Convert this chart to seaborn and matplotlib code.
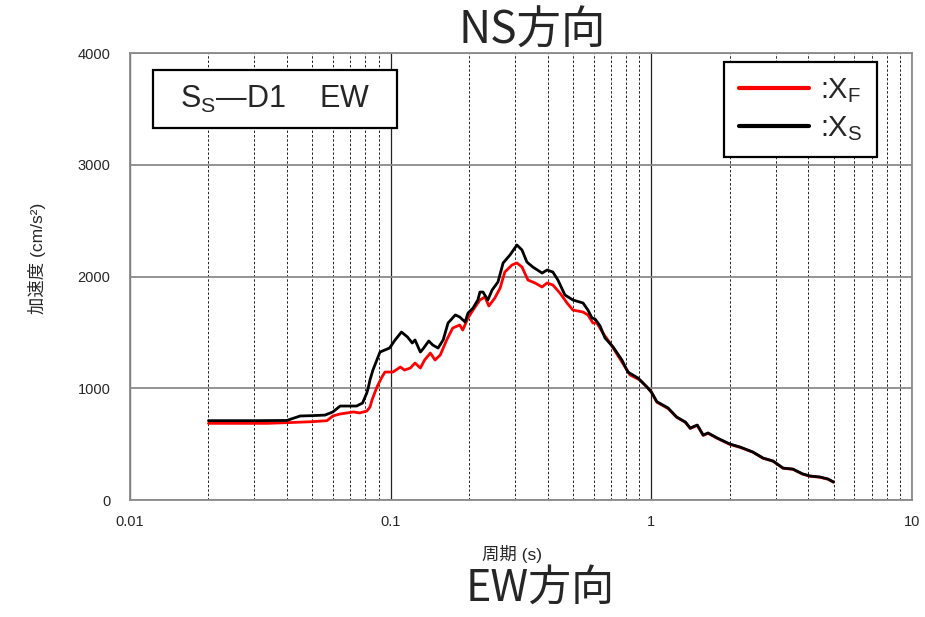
import numpy as np
import pandas as pd
import matplotlib
matplotlib.use("Agg")
import matplotlib.pyplot as plt
from matplotlib.patches import Rectangle
from matplotlib.lines import Line2D
from matplotlib.ticker import FixedLocator, NullFormatter, LogLocator
import seaborn as sns

# ---- data ----
period_xs = [0.020, 0.030, 0.040, 0.045, 0.050, 0.056, 0.060, 0.064, 0.068, 0.074,
             0.078, 0.081, 0.082, 0.0833, 0.0855, 0.091, 0.099, 0.104, 0.110, 0.116,
             0.121, 0.124, 0.130, 0.133, 0.140, 0.145, 0.152, 0.159, 0.166, 0.177,
             0.184, 0.193, 0.198, 0.207, 0.216, 0.220, 0.226, 0.236, 0.245, 0.258,
             0.270, 0.287, 0.305, 0.319, 0.333, 0.351, 0.381, 0.398, 0.419, 0.438,
             0.466, 0.500, 0.547, 0.571, 0.592, 0.608, 0.635, 0.664, 0.713, 0.771,
             0.813, 0.888, 0.962, 1.00, 1.05, 1.16, 1.25, 1.35, 1.41, 1.50,
             1.58, 1.65, 1.79, 2.00, 2.19, 2.45, 2.68, 2.93, 3.20, 3.49,
             3.81, 4.06, 4.43, 4.76, 5.00]
acc_xs = [710, 710, 712, 752, 755, 760, 788, 841, 841, 841,
          868, 958, 1002, 1074, 1163, 1324, 1360, 1432, 1503, 1459,
          1405, 1432, 1324, 1351, 1423, 1387, 1360, 1432, 1584, 1656,
          1638, 1593, 1673, 1718, 1790, 1861, 1861, 1790, 1879, 1951,
          2121, 2193, 2282, 2237, 2130, 2085, 2031, 2058, 2040, 1969,
          1835, 1790, 1763, 1700, 1629, 1620, 1560, 1450, 1370, 1253,
          1145, 1092, 1011, 966, 880, 823, 743, 698, 644, 671,
          582, 600, 555, 501, 474, 430, 376, 349, 286, 277,
          233, 215, 206, 188, 161]

period_xf = [0.020, 0.0335, 0.040, 0.050, 0.057, 0.060, 0.064, 0.072, 0.076, 0.081,
             0.0833, 0.0848, 0.0886, 0.0926, 0.0951, 0.102, 0.109, 0.113, 0.119, 0.124,
             0.130, 0.135, 0.142, 0.148, 0.155, 0.164, 0.173, 0.184, 0.189, 0.198,
             0.207, 0.220, 0.230, 0.238, 0.251, 0.263, 0.274, 0.292, 0.305, 0.319,
             0.336, 0.358, 0.381, 0.398, 0.419, 0.446, 0.475, 0.500, 0.547, 0.571,
             0.597, 0.618, 0.652, 0.694, 0.771, 0.828, 0.904, 0.970, 1.00, 1.05,
             1.16, 1.25, 1.35, 1.41, 1.50, 1.58, 1.65, 1.79, 2.00, 2.19,
             2.45, 2.68, 2.93, 3.20, 3.49, 3.81, 4.06, 4.43, 4.76, 5.00]
acc_xf = [686, 686, 692, 701, 710, 752, 770, 788, 779, 796,
          832, 895, 1011, 1101, 1145, 1145, 1190, 1163, 1181, 1226,
          1181, 1253, 1315, 1253, 1298, 1432, 1539, 1566, 1521, 1629,
          1700, 1790, 1817, 1736, 1808, 1897, 2040, 2103, 2121, 2085,
          1969, 1942, 1906, 1942, 1924, 1852, 1763, 1700, 1682, 1656,
          1584, 1584, 1494, 1405, 1235, 1119, 1074, 1002, 966, 875,
          818, 740, 695, 640, 668, 578, 597, 552, 498, 471,
          428, 374, 347, 284, 275, 231, 213, 204, 186, 159]

y_ticks = [0, 1000, 2000, 3000, 4000]
x_ticks = [0.01, 0.1, 1, 10]
x_tick_labels = ["0.01", "0.1", "1", "10"]

df = pd.concat([
    pd.DataFrame({"period": period_xf, "acc": acc_xf, "series": "XF"}),
    pd.DataFrame({"period": period_xs, "acc": acc_xs, "series": "XS"}),
], ignore_index=True)

sns.set_theme(style="white")
plt.rcParams["font.family"] = ["Liberation Sans", "Noto Sans CJK JP", "DejaVu Sans"]
plt.rcParams["mathtext.fontset"] = "custom"
plt.rcParams["mathtext.rm"] = "Liberation Sans"

fig = plt.figure(figsize=(9.25, 6.17), dpi=100)
ax = fig.add_axes([0.1405, 0.1896, 0.8455, 0.7245])

sns.lineplot(data=df, x="period", y="acc", hue="series",
             palette={"XF": "#ff0000", "XS": "#000000"},
             hue_order=["XF", "XS"], estimator=None, sort=False,
             linewidth=2.0, legend=False, ax=ax)

ax.set_xscale("log")
ax.set_xlim(0.01, 10)
ax.set_ylim(0, 4000)
ax.set_yticks(y_ticks)
ax.set_yticklabels([str(v) for v in y_ticks])
ax.xaxis.set_major_locator(FixedLocator(x_ticks))
ax.set_xticklabels(x_tick_labels)
ax.xaxis.set_minor_locator(LogLocator(base=10, subs=np.arange(2, 10)))
ax.xaxis.set_minor_formatter(NullFormatter())
ax.tick_params(axis="both", which="both", length=0)
ax.tick_params(axis="y", pad=14, labelsize=10.5)
ax.tick_params(axis="x", pad=11, labelsize=10.5)

# grid
ax.grid(False)
ax.grid(which="major", axis="y", color="#8a8a8a", linewidth=1.3, linestyle="-")
ax.grid(which="minor", axis="x", color="#222222", linewidth=0.7, linestyle=(0, (2.5, 2)))
ax.grid(which="major", axis="x", color="#222222", linewidth=0.9, linestyle="-")
ax.set_axisbelow(True)
for s in ax.spines.values():
    s.set_color("#8a8a8a")
    s.set_linewidth(1.3)

ax.set_xlabel("周期 (s)", fontsize=12.5, family=["Liberation Sans", "Noto Sans CJK JP"])
ax.set_ylabel("加速度 (cm/s²)", fontsize=12.5, family=["Liberation Sans", "Noto Sans CJK JP"])
ax.xaxis.set_label_coords(0.488, -0.1)
ax.yaxis.set_label_coords(-0.107, 0.54)

# case label box
ax.add_patch(Rectangle((0.029, 0.832), 0.312, 0.130, transform=ax.transAxes,
                       facecolor="white", edgecolor="black", linewidth=1.6, zorder=5))
ax.text(0.185, 0.897, r"S$_\mathregular{S}$—D1    EW", transform=ax.transAxes,
        ha="center", va="center", fontsize=22, zorder=6)

# legend
handles = [Line2D([], [], color="#ff0000", linewidth=3),
           Line2D([], [], color="#000000", linewidth=3)]
labels = [r":X$_\mathregular{F}$", r":X$_\mathregular{S}$"]
leg = ax.legend(handles, labels, loc="upper right", bbox_to_anchor=(0.955, 0.98),
                borderaxespad=0, fontsize=21, handlelength=2.4, handletextpad=0.4,
                labelspacing=0.3, borderpad=0.5, fancybox=False, framealpha=1,
                edgecolor="black")
leg.get_frame().set_linewidth(1.6)
leg.set_zorder(6)

fig.text(0.575, 0.950, "NS方向", fontsize=32, ha="center", va="center",
         family=["Noto Sans CJK JP", "DejaVu Sans"])
fig.text(0.584, 0.046, "EW方向", fontsize=31, ha="center", va="center",
         family=["Noto Sans CJK JP", "DejaVu Sans"])

fig.savefig("out.png", dpi=100)
